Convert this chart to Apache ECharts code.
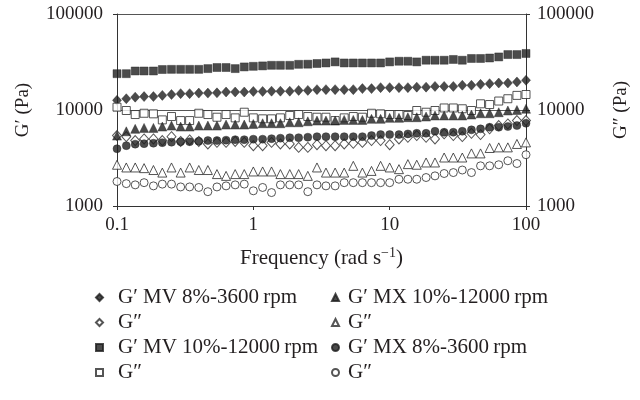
<!DOCTYPE html>
<html>
<head>
<meta charset="utf-8">
<script src="https://cdn.jsdelivr.net/npm/echarts@6/dist/echarts.min.js"></script>
<style>
html,body{margin:0;padding:0;background:#fff;}
#chart{width:640px;height:400px;}
</style>
</head>
<body>
<div id="chart"></div>
<script>
// Frequency (rad s^-1)
const freq = [0.1,0.117,0.136,0.158,0.185,0.215,0.251,0.293,0.341,0.398,0.464,0.541,0.631,0.736,0.858,1,1.17,1.36,1.58,1.85,2.15,2.51,2.93,3.41,3.98,4.64,5.41,6.31,7.36,8.58,10,11.7,13.6,15.8,18.5,21.5,25.1,29.3,34.1,39.8,46.4,54.1,63.1,73.6,85.8,100];

// G' MV 8%-3600 rpm (filled diamond)
const mv8G1 = [12600,13100,13600,13800,13800,14200,14500,14800,14800,15000,15000,15100,15400,15400,15400,15600,15600,15700,15700,15700,16000,16000,16300,16300,16300,16300,16300,16700,16700,17100,17100,17100,17100,17300,17300,17600,17600,17600,18100,18100,18500,18800,19100,19100,19600,20400];
// G'' MV 8%-3600 rpm (open diamond)
const mv8G2 = [5410,5280,4800,4990,4990,4800,5280,4710,4880,4710,4430,4600,4600,4710,4600,4250,4250,4600,4430,4430,4080,4080,4350,4250,4250,4430,4500,4600,4800,4800,4350,4990,5190,5410,5190,4990,5640,5410,5280,5720,5540,6360,6880,7160,7760,7760];
// G' MV 10%-12000 rpm (filled square)
const mv10G1 = [23900,23900,25500,25500,25500,26400,26500,26500,26500,26500,27000,27700,27700,27000,28100,28500,28800,29200,29200,29200,29900,30000,30500,30900,31700,30900,30900,30900,30900,30900,31700,32200,32200,31700,33000,33000,33000,33600,33000,34400,34400,34800,35700,37800,37800,38800];
// G'' MV 10%-12000 rpm (open square)
const mv10G2 = [10700,9880,8970,9250,9120,7890,8550,7760,7760,9250,8970,8410,8970,8280,9480,8280,8090,8090,8280,8760,8970,8550,8410,8410,7760,8280,8550,8410,9250,9120,8970,8970,8760,9880,9480,9880,10500,10500,10300,9880,11600,11400,12400,13100,14200,14500];
// G' MX 10%-12000 rpm (filled triangle)
const mx10G1 = [5410,6000,6360,6510,6510,6720,6880,6720,6720,6880,6880,6880,7050,7050,7050,7160,7280,7280,7280,7450,7450,7630,7760,7760,7760,7890,7890,7890,8090,8090,8280,8280,8410,8410,8550,8760,8760,8760,8760,8970,9250,9250,9480,9880,10000,10300];
// G'' MX 10%-12000 rpm (open triangle)
const mx10G2 = [2690,2520,2520,2480,2370,2230,2520,2230,2520,2370,2370,2150,2060,2150,2150,2290,2290,2290,2150,2150,2150,2060,2520,2230,2230,2230,2620,2230,2320,2620,2520,2420,2730,2690,2840,2840,3200,3200,3200,3530,3530,4020,4080,4080,4430,4600];
// G' MX 8%-3600 rpm (filled circle)
const mx8G1 = [3950,4250,4410,4460,4510,4570,4620,4680,4680,4730,4800,4800,4850,4910,4910,4970,4970,5030,5090,5150,5150,5210,5280,5280,5280,5280,5280,5280,5410,5540,5540,5540,5640,5720,5720,6000,5860,5860,6000,6210,6360,6610,6610,6720,6880,7280];
// G'' MX 8%-3600 rpm (open circle)
const mx8G2 = [1800,1710,1660,1750,1620,1690,1690,1580,1580,1560,1410,1580,1620,1660,1690,1440,1560,1380,1660,1660,1660,1410,1660,1620,1620,1750,1750,1750,1750,1750,1750,1900,1900,1900,1980,2060,2180,2230,2370,2230,2620,2620,2690,2960,2770,3420];

const xTickLabels = ['0.1','1','10','100'];
const yTickLabels = ['1000','10000','100000'];

const seriesNames = ['mv8g1','mv8g2','mv10g1','mv10g2','mx10g1','mx10g2','mx8g1','mx8g2'];
const seriesLabels = ['G\u2032 MV 8%-3600\u2009rpm','G\u2033','G\u2032 MV 10%-12000\u2009rpm','G\u2033','G\u2032 MX 10%-12000\u2009rpm','G\u2033','G\u2032 MX 8%-3600\u2009rpm','G\u2033'];
const seriesValues = [mv8G1,mv8G2,mv10G1,mv10G2,mx10G1,mx10G2,mx8G1,mx8G2];
const seriesSymbols = ['diamond','diamond','rect','rect','triangle','triangle','circle','circle'];
const seriesOpen = [false,true,false,true,false,true,false,true];

const FONT = '"Liberation Serif", "DejaVu Serif", serif';
const INK = '#231f20';
const labelMap = {};
seriesNames.forEach((n,i)=>{labelMap[n]=seriesLabels[i];});

function fmtNum(v){ return String(Math.round(v)); }

const series = seriesNames.map((n,i)=>{
  const sym = seriesSymbols[i];
  let size = 8;
  if (sym==='diamond') size = [9,10];
  if (sym==='triangle') size = 9;
  if (sym==='rect') size = 8;
  return {
    name: n,
    type: 'scatter',
    symbol: sym,
    symbolSize: size,
    data: freq.map((f,k)=>[f, seriesValues[i][k]]),
    itemStyle: seriesOpen[i] ? {color:'#ffffff', borderColor:'#2a2a2a', borderWidth:1} : {color:'#1e1e1e', borderColor:'#1e1e1e', borderWidth:0.5},
    emphasis: {disabled:true},
    animation:false
  };
});

const yAxisCommon = {
  type:'log', logBase:10, min:1000, max:100000,
  axisLine:{show:true, lineStyle:{color:'#333', width:1}},
  axisTick:{show:true, inside:false, length:4, lineStyle:{color:'#333'}},
  minorTick:{show:false},
  nameLocation:'middle',
  nameRotate:90,
  nameTextStyle:{fontFamily:FONT, fontSize:19, color:INK}
};

function legendCfg(names, left, spacer){
  return {
    data:names, orient:'vertical', left:left, top:282, padding:5, itemWidth:7, itemHeight:7, itemGap:4,
    formatter:function(n){return '{p| }{t|'+labelMap[n]+'}';}, selectedMode:false,
    textStyle:{fontFamily:FONT, fontSize:21, color:INK, lineHeight:21,
      rich:{p:{width:spacer, fontSize:21, lineHeight:21}, t:{fontFamily:FONT, fontSize:21, color:INK, lineHeight:21}}}
  };
}

const chart = echarts.init(document.getElementById('chart'), null, {renderer:'canvas'});
chart.setOption({
  animation:false,
  backgroundColor:'#ffffff',
  grid:{left:117, right:114, top:14, bottom:194, containLabel:false},
  xAxis:{
    type:'log', logBase:10, min:0.1, max:100,
    axisLine:{show:true, onZero:false, lineStyle:{color:'#333', width:1}},
    axisTick:{show:true, length:4, lineStyle:{color:'#333'}},
    splitLine:{show:false},
    axisLabel:{fontFamily:FONT, fontSize:19, color:INK, margin:10,
      formatter:function(v){ const s = String(+v.toPrecision(3)); return xTickLabels.indexOf(s)>=0 ? s : ''; }},
    name:'{a|Frequency (rad s}{s|\u22121}{a|)}',
    nameLocation:'middle', nameGap:40,
    nameTextStyle:{fontFamily:FONT, fontSize:21, color:INK,
      rich:{a:{fontFamily:FONT, fontSize:21, color:INK}, s:{fontFamily:FONT, fontSize:14, color:INK, verticalAlign:'top', padding:[0,0,11,0]}}}
  },
  yAxis:[
    Object.assign({}, yAxisCommon, {
      position:'left', name:'G\u2032 (Pa)', nameGap:84,
      splitLine:{show:true, lineStyle:{color:'#555', width:1}},
      axisLabel:{fontFamily:FONT, fontSize:19, color:INK, margin:14,
        formatter:function(v){ const s = fmtNum(v); return yTickLabels.indexOf(s)>=0 ? s : ''; }}
    }),
    Object.assign({}, yAxisCommon, {
      position:'right', name:'G\u2033 (Pa)', nameGap:86,
      splitLine:{show:false},
      axisLabel:{fontFamily:FONT, fontSize:19, color:INK, margin:11,
        formatter:function(v){ const s = fmtNum(v); return yTickLabels.indexOf(s)>=0 ? s : ''; }}
    })
  ],
  legend:[
    legendCfg(seriesNames.slice(0,4), 90, 10),
    legendCfg(seriesNames.slice(4), 326, 4)
  ],
  series: series
});
</script>
</body>
</html>
